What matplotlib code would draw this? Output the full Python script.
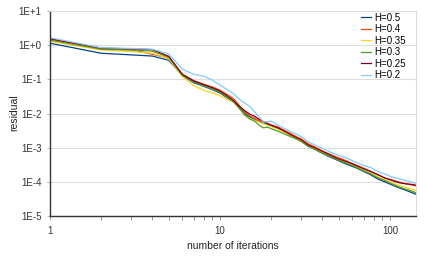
import math

import matplotlib
matplotlib.use("Agg")
import matplotlib.pyplot as plt
from matplotlib.ticker import FixedLocator, FuncFormatter, NullFormatter

plt.rcParams["font.family"] = ["Liberation Sans", "DejaVu Sans"]

iterations = [1, 2, 3, 4, 5, 6, 7, 8, 9, 10, 11, 12, 13, 14, 15, 16, 17, 18, 19, 20,
              22, 24, 26, 28, 30, 33, 36, 40, 44, 48, 53, 58, 64, 70, 77, 85, 93,
              102, 112, 122, 132, 142]

h_050 = [1.14, 0.58, 0.52, 0.48, 0.36, 0.13, 0.08, 0.063, 0.05, 0.04, 0.029, 0.022,
         0.015, 0.01, 0.0078, 0.0066, 0.0058, 0.0052, 0.0047, 0.0043, 0.0036, 0.0029,
         0.0023, 0.0019, 0.0016, 0.0011, 0.0009, 0.00068, 0.00054, 0.00045, 0.00036,
         0.0003, 0.00025, 0.0002, 0.00016, 0.00012, 0.0001, 0.000082, 0.000068,
         0.000058, 0.00005, 0.000043]
h_040 = [1.5, 0.8, 0.75, 0.54, 0.42, 0.14, 0.092, 0.072, 0.06, 0.048, 0.036, 0.027,
         0.017, 0.011, 0.0085, 0.0072, 0.0062, 0.0056, 0.0052, 0.0046, 0.004, 0.0032,
         0.0026, 0.0021, 0.0018, 0.0013, 0.00105, 0.0008, 0.00065, 0.00054, 0.00045,
         0.00037, 0.0003, 0.00025, 0.0002, 0.00016, 0.00013, 0.000115, 0.0001,
         0.00009, 0.000082, 0.000076]
h_035 = [1.3, 0.72, 0.65, 0.58, 0.4, 0.12, 0.065, 0.048, 0.04, 0.033, 0.026, 0.021,
         0.014, 0.0085, 0.0072, 0.0063, 0.0056, 0.005, 0.0046, 0.0042, 0.0034, 0.0028,
         0.0023, 0.0019, 0.0016, 0.00115, 0.00095, 0.00072, 0.00058, 0.00048, 0.0004,
         0.00033, 0.00027, 0.00022, 0.00018, 0.00014, 0.000115, 0.000095, 0.00008,
         0.00007, 0.000062, 0.000056]
h_030 = [1.4, 0.76, 0.72, 0.67, 0.44, 0.13, 0.085, 0.065, 0.052, 0.042, 0.03, 0.022,
         0.014, 0.009, 0.0068, 0.006, 0.0045, 0.0038, 0.004, 0.0036, 0.003, 0.0025,
         0.0021, 0.0018, 0.0015, 0.0011, 0.0009, 0.0007, 0.00056, 0.00046, 0.00038,
         0.00032, 0.00026, 0.00021, 0.00017, 0.00013, 0.00011, 0.000088, 0.000072,
         0.000062, 0.000055, 0.000048]
h_025 = [1.55, 0.82, 0.78, 0.74, 0.47, 0.14, 0.09, 0.07, 0.057, 0.045, 0.033, 0.024,
         0.016, 0.012, 0.0095, 0.0082, 0.0068, 0.0058, 0.005, 0.0045, 0.0038, 0.003,
         0.0024, 0.002, 0.0017, 0.0012, 0.001, 0.00078, 0.00062, 0.0005, 0.00042,
         0.00036, 0.00029, 0.00024, 0.0002, 0.00016, 0.00013, 0.00011, 0.000095,
         0.000088, 0.000085, 0.00008]
h_020 = [1.65, 0.84, 0.8, 0.76, 0.55, 0.2, 0.14, 0.125, 0.095, 0.068, 0.05, 0.038,
         0.026, 0.02, 0.016, 0.011, 0.0078, 0.0056, 0.0058, 0.006, 0.0045, 0.0036,
         0.0029, 0.0025, 0.0021, 0.0015, 0.0012, 0.00095, 0.00076, 0.00064, 0.00054,
         0.00045, 0.00036, 0.0003, 0.00026, 0.0002, 0.00017, 0.00014, 0.000125,
         0.00011, 0.0001, 0.00009]

series = [
    ("H=0.5", h_050, "#004586"),
    ("H=0.4", h_040, "#ff420e"),
    ("H=0.35", h_035, "#ffd320"),
    ("H=0.3", h_030, "#579d1c"),
    ("H=0.25", h_025, "#7e0021"),
    ("H=0.2", h_020, "#83caff"),
]

W, H = 426, 262
fig = plt.figure(figsize=(W / 100, H / 100), dpi=100)
ax = fig.add_axes([50 / W, 1 - 216 / H, 366 / W, 205 / H])

for label, values, color in series:
    ax.plot(iterations, values, color=color, lw=0.9, label=label)

ax.set_xscale("log")
ax.set_yscale("log")
ax.set_xlim(1, 142)
ax.set_ylim(1e-5, 10)

ax.yaxis.set_major_locator(FixedLocator([10.0 ** k for k in range(-5, 2)]))
ax.yaxis.set_minor_locator(FixedLocator([]))
ax.yaxis.set_major_formatter(FuncFormatter(lambda v, p: "1E%+d" % round(math.log10(v))))
ax.xaxis.set_major_locator(FixedLocator([1, 10, 100]))
ax.xaxis.set_major_formatter(FuncFormatter(lambda v, p: "%d" % v))
ax.xaxis.set_minor_formatter(NullFormatter())

ax.grid(axis="y", which="major", color="#dddddd", lw=0.8)
ax.set_axisbelow(True)
for side in ("top", "right"):
    ax.spines[side].set_color("#dddddd")
    ax.spines[side].set_linewidth(0.8)
for side in ("left", "bottom"):
    ax.spines[side].set_color("#333333")
    ax.spines[side].set_linewidth(1.0)

ax.tick_params(axis="both", labelsize=7, colors="#333333", pad=4)
ax.tick_params(axis="x", which="both", length=3, width=0.6, color="#888888")
ax.tick_params(axis="y", which="major", length=2, width=0.6, color="#aaaaaa")

fig.text(233 / W, 1 - 246 / H, "number of iterations", fontsize=7.5,
         ha="center", va="center", color="#222222")
fig.text(14 / W, 1 - 113 / H, "residual", fontsize=7.5, rotation=90,
         ha="center", va="center", color="#222222")

ax.legend(loc="upper right", frameon=False, fontsize=7, handlelength=1.0,
          handletextpad=0.3, labelspacing=0.15, borderaxespad=0.0,
          bbox_to_anchor=(0.982, 1.01))

fig.savefig("out.png", dpi=100)
